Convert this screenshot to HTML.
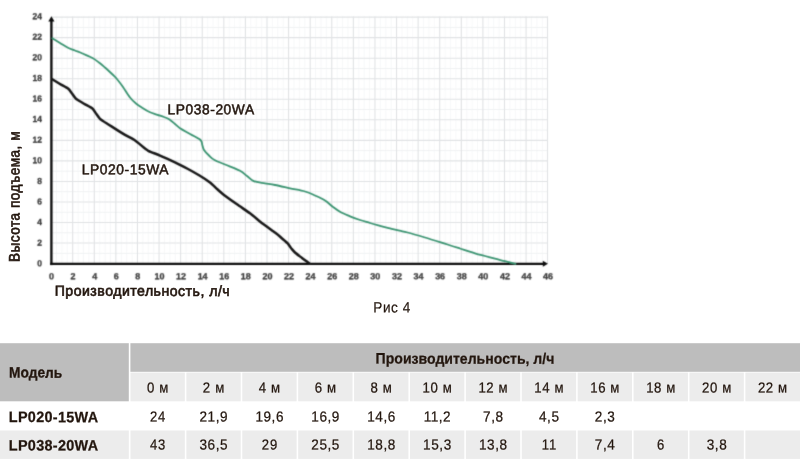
<!DOCTYPE html>
<html lang="ru"><head><meta charset="utf-8"><title>Рис 4</title>
<style>html,body{margin:0;padding:0;background:#fff}body{width:800px;height:467px;overflow:hidden}svg{display:block}text{font-family:"Liberation Sans",sans-serif}</style>
</head><body>
<svg width="800" height="467" viewBox="0 0 800 467">
<defs><filter id="b1" x="-2%" y="-2%" width="104%" height="104%" color-interpolation-filters="sRGB"><feConvolveMatrix order="3" kernelMatrix="0.02 0.08 0.02 0.08 0.6 0.08 0.02 0.08 0.02" divisor="1" edgeMode="none" preserveAlpha="false"/></filter><filter id="b2" x="-2%" y="-2%" width="104%" height="104%" color-interpolation-filters="sRGB"><feConvolveMatrix order="3" kernelMatrix="0.03 0.1 0.03 0.1 0.48 0.1 0.03 0.1 0.03" divisor="1" edgeMode="none" preserveAlpha="false"/></filter></defs>
<rect width="800" height="467" fill="#fff"/>
<g filter="url(#b1)">
<path d="M56.50 16.3V263.6M61.90 16.3V263.6M67.29 16.3V263.6M78.09 16.3V263.6M83.48 16.3V263.6M88.88 16.3V263.6M99.68 16.3V263.6M105.08 16.3V263.6M110.47 16.3V263.6M121.27 16.3V263.6M126.66 16.3V263.6M132.06 16.3V263.6M142.86 16.3V263.6M148.25 16.3V263.6M153.65 16.3V263.6M164.45 16.3V263.6M169.84 16.3V263.6M175.24 16.3V263.6M186.04 16.3V263.6M191.44 16.3V263.6M196.83 16.3V263.6M207.63 16.3V263.6M213.03 16.3V263.6M218.42 16.3V263.6M229.22 16.3V263.6M234.61 16.3V263.6M240.01 16.3V263.6M250.81 16.3V263.6M256.20 16.3V263.6M261.60 16.3V263.6M272.40 16.3V263.6M277.80 16.3V263.6M283.19 16.3V263.6M293.99 16.3V263.6M299.38 16.3V263.6M304.78 16.3V263.6M315.58 16.3V263.6M320.98 16.3V263.6M326.37 16.3V263.6M337.17 16.3V263.6M342.56 16.3V263.6M347.96 16.3V263.6M358.76 16.3V263.6M364.16 16.3V263.6M369.55 16.3V263.6M380.35 16.3V263.6M385.75 16.3V263.6M391.14 16.3V263.6M401.94 16.3V263.6M407.34 16.3V263.6M412.73 16.3V263.6M423.53 16.3V263.6M428.93 16.3V263.6M434.32 16.3V263.6M445.12 16.3V263.6M450.52 16.3V263.6M455.91 16.3V263.6M466.71 16.3V263.6M472.11 16.3V263.6M477.50 16.3V263.6M488.30 16.3V263.6M493.69 16.3V263.6M499.09 16.3V263.6M509.89 16.3V263.6M515.28 16.3V263.6M520.68 16.3V263.6M531.48 16.3V263.6M536.88 16.3V263.6M542.27 16.3V263.6" stroke="#f6f7f8" stroke-width="0.9" fill="none"/>
<path d="M51.1 253.33H547.5M51.1 232.79H547.5M51.1 212.25H547.5M51.1 191.71H547.5M51.1 171.17H547.5M51.1 150.63H547.5M51.1 130.09H547.5M51.1 109.55H547.5M51.1 89.01H547.5M51.1 68.47H547.5M51.1 47.93H547.5M51.1 27.39H547.5" stroke="#f0f2f3" stroke-width="1" fill="none"/>
<path d="M72.69 16.3V263.6M94.28 16.3V263.6M115.87 16.3V263.6M137.46 16.3V263.6M159.05 16.3V263.6M180.64 16.3V263.6M202.23 16.3V263.6M223.82 16.3V263.6M245.41 16.3V263.6M267.00 16.3V263.6M288.59 16.3V263.6M310.18 16.3V263.6M331.77 16.3V263.6M353.36 16.3V263.6M374.95 16.3V263.6M396.54 16.3V263.6M418.13 16.3V263.6M439.72 16.3V263.6M461.31 16.3V263.6M482.90 16.3V263.6M504.49 16.3V263.6M526.08 16.3V263.6M547.50 16.3V263.6M51.1 243.06H547.5M51.1 222.52H547.5M51.1 201.98H547.5M51.1 181.44H547.5M51.1 160.90H547.5M51.1 140.36H547.5M51.1 119.82H547.5M51.1 99.28H547.5M51.1 78.74H547.5M51.1 58.20H547.5M51.1 37.66H547.5M51.1 17.12H547.5" stroke="#e1e3e5" stroke-width="1.1" fill="none"/>
</g>
<g filter="url(#b2)" fill="none" stroke-linecap="round" stroke-linejoin="round">
<path d="M51.4 265.1V20" stroke="#0b0b0b" stroke-width="2.35" stroke-linecap="butt"/>
<path d="M50.1 263.8H544" stroke="#0b0b0b" stroke-width="2.35" stroke-linecap="butt"/>
<path d="M51.4 16.2L54.5 21.6H48.3Z" fill="#0b0b0b" stroke="none"/>
<path d="M548 263.8L542.8 260.8V266.8Z" fill="#0b0b0b" stroke="none"/>
<path d="M52.3 38.2C53.6 39.0 57.5 41.5 60.0 43.0C62.5 44.5 65.0 46.2 67.5 47.5C70.0 48.8 72.5 49.5 75.0 50.5C77.5 51.5 79.6 52.2 82.5 53.5C85.4 54.8 89.8 56.5 92.5 58.0C95.2 59.5 96.9 60.9 99.0 62.5C101.1 64.1 102.8 65.6 105.0 67.5C107.2 69.4 110.1 72.2 112.0 74.0C113.9 75.8 114.7 76.3 116.5 78.5C118.3 80.7 120.8 83.8 123.0 87.0C125.2 90.2 127.8 94.8 130.0 97.5C132.2 100.2 133.9 101.8 136.0 103.5C138.1 105.2 140.2 106.5 142.5 108.0C144.8 109.5 147.5 111.1 150.0 112.2C152.5 113.3 155.2 114.0 157.5 114.8C159.8 115.6 162.0 116.2 164.0 117.0C166.0 117.8 167.7 118.3 169.5 119.5C171.3 120.7 173.2 122.5 175.0 124.0C176.8 125.5 177.4 126.5 180.0 128.2C182.6 129.9 187.1 132.2 190.5 134.2C193.9 136.2 198.5 138.2 200.5 140.0C202.5 141.8 201.7 143.3 202.3 145.0C202.9 146.7 202.9 148.2 204.0 150.0C205.1 151.8 207.2 153.8 209.0 155.5C210.8 157.2 211.8 158.5 214.5 160.0C217.2 161.5 220.8 162.7 225.0 164.5C229.2 166.3 236.3 168.9 240.0 170.8C243.7 172.7 244.7 174.3 247.0 176.0C249.3 177.7 250.8 180.0 253.8 181.2C256.8 182.4 261.5 182.7 265.0 183.3C268.5 183.9 270.8 184.2 275.0 185.0C279.2 185.8 285.0 187.2 290.0 188.3C295.0 189.4 300.8 190.3 305.0 191.5C309.2 192.7 311.7 194.0 315.0 195.5C318.3 197.0 322.0 198.6 325.0 200.5C328.0 202.4 330.5 205.1 333.0 207.0C335.5 208.9 337.2 210.2 340.0 211.8C342.8 213.4 346.7 214.9 350.0 216.3C353.3 217.7 356.7 218.9 360.0 220.0C363.3 221.1 366.7 222.0 370.0 223.0C373.3 224.0 376.7 224.9 380.0 225.8C383.3 226.7 386.8 227.5 390.0 228.3C393.2 229.1 396.6 230.0 399.5 230.7C402.4 231.4 403.2 231.4 407.5 232.5C411.8 233.6 418.3 235.5 425.0 237.5C431.7 239.5 441.7 242.7 447.5 244.5C453.3 246.3 455.4 247.0 460.0 248.5C464.6 250.0 470.8 252.1 475.0 253.3C479.2 254.6 481.7 255.1 485.0 256.0C488.3 256.9 491.7 257.8 495.0 258.7C498.3 259.6 501.6 260.3 505.0 261.2C508.4 262.1 513.8 263.4 515.5 263.8" stroke="#38926f" stroke-width="1.8"/>
<path d="M52.3 79.3C53.1 79.8 58.4 83.0 60.0 84.0C61.6 85.0 67.1 87.8 68.3 88.8C69.5 89.8 71.2 92.5 72.0 93.5C72.8 94.5 74.8 97.8 76.0 98.8C77.2 99.8 82.4 102.7 84.0 103.7C85.6 104.7 91.2 107.5 92.4 108.5C93.6 109.5 95.2 112.5 96.0 113.5C96.8 114.5 98.8 117.7 100.0 118.8C101.2 119.9 106.3 123.1 108.0 124.2C109.7 125.3 114.8 128.5 116.5 129.6C118.2 130.7 123.2 133.8 125.0 134.9C126.8 136.0 133.2 139.1 134.8 140.2C136.5 141.3 140.2 144.5 141.5 145.6C142.8 146.7 146.5 149.8 148.3 150.8C150.2 151.8 157.3 154.4 160.0 155.6C162.7 156.8 172.2 161.0 175.0 162.3C177.8 163.6 185.6 167.7 188.0 169.0C190.4 170.3 197.3 174.2 199.5 175.5C201.7 176.8 208.2 181.2 210.0 182.5C211.8 183.8 215.5 187.7 217.0 189.0C218.5 190.3 223.0 194.3 225.0 195.8C227.0 197.3 234.5 202.6 237.0 204.3C239.5 206.1 247.4 211.4 250.0 213.3C252.6 215.2 260.0 221.6 262.5 223.5C265.0 225.4 273.1 231.1 275.0 232.5C276.9 233.9 279.8 236.4 281.0 237.5C282.2 238.6 286.5 242.1 287.5 243.2C288.5 244.2 290.2 247.1 291.0 248.0C291.8 248.9 293.9 251.5 295.0 252.5C296.1 253.5 300.6 256.9 302.0 258.0C303.4 259.1 308.8 263.0 309.5 263.6" stroke="#161616" stroke-width="2.5"/>
</g>
<g filter="url(#b2)" font-size="8.8" font-weight="bold" fill="#3a3a3a" stroke="#3a3a3a" stroke-width="0.3">
<text transform="translate(37.30 266.25) rotate(0.04) scale(0.96 1)">0</text>
<text transform="translate(37.30 245.66) rotate(0.04) scale(0.96 1)">2</text>
<text transform="translate(37.30 225.07) rotate(0.04) scale(0.96 1)">4</text>
<text transform="translate(37.30 204.48) rotate(0.04) scale(0.96 1)">6</text>
<text transform="translate(37.30 183.89) rotate(0.04) scale(0.96 1)">8</text>
<text transform="translate(32.60 163.30) rotate(0.04) scale(0.96 1)">10</text>
<text transform="translate(32.60 142.71) rotate(0.04) scale(0.96 1)">12</text>
<text transform="translate(32.60 122.12) rotate(0.04) scale(0.96 1)">14</text>
<text transform="translate(32.60 101.53) rotate(0.04) scale(0.96 1)">16</text>
<text transform="translate(32.60 80.94) rotate(0.04) scale(0.96 1)">18</text>
<text transform="translate(32.60 60.35) rotate(0.04) scale(0.96 1)">20</text>
<text transform="translate(32.60 39.76) rotate(0.04) scale(0.96 1)">22</text>
<text transform="translate(32.60 19.17) rotate(0.04) scale(0.96 1)">24</text>
<text transform="translate(49.00 279.2) rotate(0.04) scale(1.02 1)">0</text>
<text transform="translate(70.59 279.2) rotate(0.04) scale(1.02 1)">2</text>
<text transform="translate(92.18 279.2) rotate(0.04) scale(1.02 1)">4</text>
<text transform="translate(113.77 279.2) rotate(0.04) scale(1.02 1)">6</text>
<text transform="translate(135.36 279.2) rotate(0.04) scale(1.02 1)">8</text>
<text transform="translate(154.46 279.2) rotate(0.04) scale(1.02 1)">10</text>
<text transform="translate(176.05 279.2) rotate(0.04) scale(1.02 1)">12</text>
<text transform="translate(197.64 279.2) rotate(0.04) scale(1.02 1)">14</text>
<text transform="translate(219.23 279.2) rotate(0.04) scale(1.02 1)">16</text>
<text transform="translate(240.82 279.2) rotate(0.04) scale(1.02 1)">18</text>
<text transform="translate(262.41 279.2) rotate(0.04) scale(1.02 1)">20</text>
<text transform="translate(284.00 279.2) rotate(0.04) scale(1.02 1)">22</text>
<text transform="translate(305.59 279.2) rotate(0.04) scale(1.02 1)">24</text>
<text transform="translate(327.18 279.2) rotate(0.04) scale(1.02 1)">26</text>
<text transform="translate(348.77 279.2) rotate(0.04) scale(1.02 1)">28</text>
<text transform="translate(370.36 279.2) rotate(0.04) scale(1.02 1)">30</text>
<text transform="translate(391.95 279.2) rotate(0.04) scale(1.02 1)">32</text>
<text transform="translate(413.54 279.2) rotate(0.04) scale(1.02 1)">34</text>
<text transform="translate(435.13 279.2) rotate(0.04) scale(1.02 1)">36</text>
<text transform="translate(456.72 279.2) rotate(0.04) scale(1.02 1)">38</text>
<text transform="translate(478.31 279.2) rotate(0.04) scale(1.02 1)">40</text>
<text transform="translate(499.90 279.2) rotate(0.04) scale(1.02 1)">42</text>
<text transform="translate(521.49 279.2) rotate(0.04) scale(1.02 1)">44</text>
<text transform="translate(543.08 279.2) rotate(0.04) scale(1.02 1)">46</text>
</g>
<text transform="translate(167.50 114.30) rotate(0.04) scale(0.9699 1)" font-size="14.2" fill="#23160e" textLength="89.29" lengthAdjust="spacing" stroke="#23160e" stroke-width="0.5">LP038-20WA</text>
<text transform="translate(81.70 174.30) rotate(0.04) scale(0.9732 1)" font-size="14.2" fill="#23160e" textLength="89.29" lengthAdjust="spacing" stroke="#23160e" stroke-width="0.5">LP020-15WA</text>
<text transform="translate(54.70 295.80) rotate(0.04) scale(0.9676 1)" font-size="14.6" fill="#23160e" textLength="180.86" lengthAdjust="spacing" stroke="#23160e" stroke-width="0.65">Производительность, л/ч</text>
<g transform="translate(19.5 262) rotate(-90)">
<text transform="translate(0.00 0.00) rotate(0.04) scale(0.8950 1)" font-size="15.2" fill="#23160e" textLength="145.81" lengthAdjust="spacing" stroke="#23160e" stroke-width="0.65">Высота подъема, м</text>
</g>
<text transform="translate(373.30 312.40) rotate(0.04) scale(0.9059 1)" font-size="15.0" fill="#23160e" textLength="40.84" lengthAdjust="spacing" stroke="#23160e" stroke-width="0.2">Рис 4</text>
<rect x="0" y="343.2" width="128.8" height="58.1" fill="#bdbdbd"/>
<rect x="130.4" y="343.2" width="669.6" height="28.6" fill="#bdbdbd"/>
<rect x="130.50" y="372.6" width="54.30" height="28.7" fill="#ececec"/>
<rect x="130.50" y="430.5" width="54.30" height="28.4" fill="#ececec"/>
<rect x="186.40" y="372.6" width="54.30" height="28.7" fill="#ececec"/>
<rect x="186.40" y="430.5" width="54.30" height="28.4" fill="#ececec"/>
<rect x="242.30" y="372.6" width="54.30" height="28.7" fill="#ececec"/>
<rect x="242.30" y="430.5" width="54.30" height="28.4" fill="#ececec"/>
<rect x="298.20" y="372.6" width="54.30" height="28.7" fill="#ececec"/>
<rect x="298.20" y="430.5" width="54.30" height="28.4" fill="#ececec"/>
<rect x="354.10" y="372.6" width="54.30" height="28.7" fill="#ececec"/>
<rect x="354.10" y="430.5" width="54.30" height="28.4" fill="#ececec"/>
<rect x="410.00" y="372.6" width="54.30" height="28.7" fill="#ececec"/>
<rect x="410.00" y="430.5" width="54.30" height="28.4" fill="#ececec"/>
<rect x="465.90" y="372.6" width="54.30" height="28.7" fill="#ececec"/>
<rect x="465.90" y="430.5" width="54.30" height="28.4" fill="#ececec"/>
<rect x="521.80" y="372.6" width="54.30" height="28.7" fill="#ececec"/>
<rect x="521.80" y="430.5" width="54.30" height="28.4" fill="#ececec"/>
<rect x="577.70" y="372.6" width="54.30" height="28.7" fill="#ececec"/>
<rect x="577.70" y="430.5" width="54.30" height="28.4" fill="#ececec"/>
<rect x="633.60" y="372.6" width="54.30" height="28.7" fill="#ececec"/>
<rect x="633.60" y="430.5" width="54.30" height="28.4" fill="#ececec"/>
<rect x="689.50" y="372.6" width="54.30" height="28.7" fill="#ececec"/>
<rect x="689.50" y="430.5" width="54.30" height="28.4" fill="#ececec"/>
<rect x="745.40" y="372.6" width="54.60" height="28.7" fill="#ececec"/>
<rect x="745.40" y="430.5" width="54.60" height="28.4" fill="#ececec"/>
<rect x="0" y="430.5" width="128.8" height="28.4" fill="#ececec"/>
<text transform="translate(9.00 377.60) rotate(0.04) scale(0.9222 1)" font-size="14.9" font-weight="bold" fill="#23160e" textLength="57.69" lengthAdjust="spacing" stroke="#23160e" stroke-width="0.3">Модель</text>
<text transform="translate(8.80 422.10) rotate(0.04) scale(0.9557 1)" font-size="15.1" font-weight="bold" fill="#23160e" textLength="93.44" lengthAdjust="spacing" stroke="#23160e" stroke-width="0.25">LP020-15WA</text>
<text transform="translate(8.80 450.40) rotate(0.04) scale(0.9557 1)" font-size="15.1" font-weight="bold" fill="#23160e" textLength="93.44" lengthAdjust="spacing" stroke="#23160e" stroke-width="0.25">LP038-20WA</text>
<text transform="translate(375.60 363.60) rotate(0.04) scale(0.9317 1)" font-size="15.1" font-weight="bold" fill="#23160e" textLength="191.90" lengthAdjust="spacing" stroke="#23160e" stroke-width="0.25">Производительность, л/ч</text>
<text transform="translate(146.97 392.40) rotate(0.04) scale(0.9104 1)" font-size="14.5" fill="#23160e" textLength="23.47" lengthAdjust="spacing" stroke="#23160e" stroke-width="0.25">0 м</text>
<text transform="translate(149.92 421.50) rotate(0.04) scale(0.9006 1)" font-size="14.5" fill="#23160e" textLength="17.16" lengthAdjust="spacing" stroke="#23160e" stroke-width="0.25">24</text>
<text transform="translate(149.92 449.40) rotate(0.04) scale(0.9006 1)" font-size="14.5" fill="#23160e" textLength="17.16" lengthAdjust="spacing" stroke="#23160e" stroke-width="0.25">43</text>
<text transform="translate(202.87 392.40) rotate(0.04) scale(0.9104 1)" font-size="14.5" fill="#23160e" textLength="23.47" lengthAdjust="spacing" stroke="#23160e" stroke-width="0.25">2 м</text>
<text transform="translate(199.52 421.50) rotate(0.04) scale(0.9348 1)" font-size="14.5" fill="#23160e" textLength="30.02" lengthAdjust="spacing" stroke="#23160e" stroke-width="0.25">21,9</text>
<text transform="translate(199.52 449.40) rotate(0.04) scale(0.9348 1)" font-size="14.5" fill="#23160e" textLength="30.02" lengthAdjust="spacing" stroke="#23160e" stroke-width="0.25">36,5</text>
<text transform="translate(258.77 392.40) rotate(0.04) scale(0.9104 1)" font-size="14.5" fill="#23160e" textLength="23.47" lengthAdjust="spacing" stroke="#23160e" stroke-width="0.25">4 м</text>
<text transform="translate(255.42 421.50) rotate(0.04) scale(0.9348 1)" font-size="14.5" fill="#23160e" textLength="30.02" lengthAdjust="spacing" stroke="#23160e" stroke-width="0.25">19,6</text>
<text transform="translate(261.72 449.40) rotate(0.04) scale(0.9006 1)" font-size="14.5" fill="#23160e" textLength="17.16" lengthAdjust="spacing" stroke="#23160e" stroke-width="0.25">29</text>
<text transform="translate(314.67 392.40) rotate(0.04) scale(0.9104 1)" font-size="14.5" fill="#23160e" textLength="23.47" lengthAdjust="spacing" stroke="#23160e" stroke-width="0.25">6 м</text>
<text transform="translate(311.32 421.50) rotate(0.04) scale(0.9348 1)" font-size="14.5" fill="#23160e" textLength="30.02" lengthAdjust="spacing" stroke="#23160e" stroke-width="0.25">16,9</text>
<text transform="translate(311.32 449.40) rotate(0.04) scale(0.9348 1)" font-size="14.5" fill="#23160e" textLength="30.02" lengthAdjust="spacing" stroke="#23160e" stroke-width="0.25">25,5</text>
<text transform="translate(370.57 392.40) rotate(0.04) scale(0.9104 1)" font-size="14.5" fill="#23160e" textLength="23.47" lengthAdjust="spacing" stroke="#23160e" stroke-width="0.25">8 м</text>
<text transform="translate(367.22 421.50) rotate(0.04) scale(0.9348 1)" font-size="14.5" fill="#23160e" textLength="30.02" lengthAdjust="spacing" stroke="#23160e" stroke-width="0.25">14,6</text>
<text transform="translate(367.22 449.40) rotate(0.04) scale(0.9348 1)" font-size="14.5" fill="#23160e" textLength="30.02" lengthAdjust="spacing" stroke="#23160e" stroke-width="0.25">18,8</text>
<text transform="translate(422.56 392.40) rotate(0.04) scale(0.9104 1)" font-size="14.5" fill="#23160e" textLength="32.05" lengthAdjust="spacing" stroke="#23160e" stroke-width="0.25">10 м</text>
<text transform="translate(423.65 421.50) rotate(0.04) scale(0.9348 1)" font-size="14.5" fill="#23160e" textLength="28.88" lengthAdjust="spacing" stroke="#23160e" stroke-width="0.25">11,2</text>
<text transform="translate(423.12 449.40) rotate(0.04) scale(0.9348 1)" font-size="14.5" fill="#23160e" textLength="30.02" lengthAdjust="spacing" stroke="#23160e" stroke-width="0.25">15,3</text>
<text transform="translate(478.46 392.40) rotate(0.04) scale(0.9104 1)" font-size="14.5" fill="#23160e" textLength="32.05" lengthAdjust="spacing" stroke="#23160e" stroke-width="0.25">12 м</text>
<text transform="translate(483.03 421.50) rotate(0.04) scale(0.9348 1)" font-size="14.5" fill="#23160e" textLength="21.44" lengthAdjust="spacing" stroke="#23160e" stroke-width="0.25">7,8</text>
<text transform="translate(479.02 449.40) rotate(0.04) scale(0.9348 1)" font-size="14.5" fill="#23160e" textLength="30.02" lengthAdjust="spacing" stroke="#23160e" stroke-width="0.25">13,8</text>
<text transform="translate(534.36 392.40) rotate(0.04) scale(0.9104 1)" font-size="14.5" fill="#23160e" textLength="32.05" lengthAdjust="spacing" stroke="#23160e" stroke-width="0.25">14 м</text>
<text transform="translate(538.93 421.50) rotate(0.04) scale(0.9348 1)" font-size="14.5" fill="#23160e" textLength="21.44" lengthAdjust="spacing" stroke="#23160e" stroke-width="0.25">4,5</text>
<text transform="translate(541.74 449.40) rotate(0.04) scale(0.9006 1)" font-size="14.5" fill="#23160e" textLength="16.01" lengthAdjust="spacing" stroke="#23160e" stroke-width="0.25">11</text>
<text transform="translate(590.26 392.40) rotate(0.04) scale(0.9104 1)" font-size="14.5" fill="#23160e" textLength="32.05" lengthAdjust="spacing" stroke="#23160e" stroke-width="0.25">16 м</text>
<text transform="translate(594.83 421.50) rotate(0.04) scale(0.9348 1)" font-size="14.5" fill="#23160e" textLength="21.44" lengthAdjust="spacing" stroke="#23160e" stroke-width="0.25">2,3</text>
<text transform="translate(594.83 449.40) rotate(0.04) scale(0.9348 1)" font-size="14.5" fill="#23160e" textLength="21.44" lengthAdjust="spacing" stroke="#23160e" stroke-width="0.25">7,4</text>
<text transform="translate(646.16 392.40) rotate(0.04) scale(0.9104 1)" font-size="14.5" fill="#23160e" textLength="32.05" lengthAdjust="spacing" stroke="#23160e" stroke-width="0.25">18 м</text>
<text transform="translate(656.89 449.40) rotate(0.04) scale(0.9006 1)" font-size="14.5" fill="#23160e" textLength="8.58" lengthAdjust="spacing" stroke="#23160e" stroke-width="0.25">6</text>
<text transform="translate(702.06 392.40) rotate(0.04) scale(0.9104 1)" font-size="14.5" fill="#23160e" textLength="32.05" lengthAdjust="spacing" stroke="#23160e" stroke-width="0.25">20 м</text>
<text transform="translate(706.63 449.40) rotate(0.04) scale(0.9348 1)" font-size="14.5" fill="#23160e" textLength="21.44" lengthAdjust="spacing" stroke="#23160e" stroke-width="0.25">3,8</text>
<text transform="translate(757.96 392.40) rotate(0.04) scale(0.9104 1)" font-size="14.5" fill="#23160e" textLength="32.05" lengthAdjust="spacing" stroke="#23160e" stroke-width="0.25">22 м</text>
</svg>
</body></html>
